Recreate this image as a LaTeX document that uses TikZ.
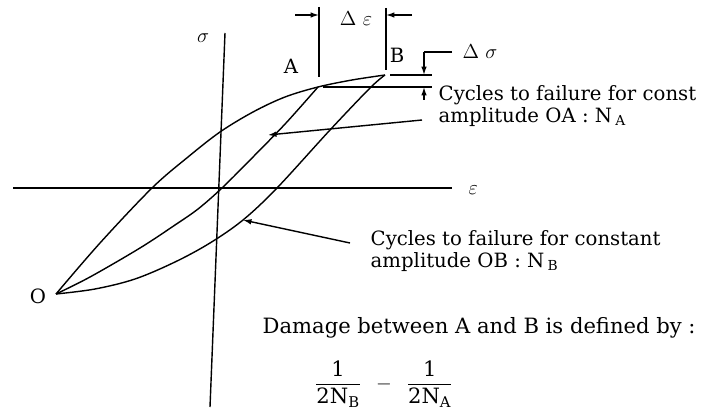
\documentclass[tikz,border=0pt]{standalone}
\usepackage{amsmath}
\usepackage{fontspec}
\setmainfont{DejaVu Serif}
\usetikzlibrary{arrows.meta}

\begin{document}
\begin{tikzpicture}[x=0.025cm, y=-0.025cm, line width=1pt,
	lbl/.style={font=\fontsize{14}{15.2}\selectfont, inner sep=0pt},
	big/.style={font=\fontsize{15}{17}\selectfont, inner sep=0pt},
	tip/.style={-{Latex[length=6pt,width=4pt]}}]
	\useasboundingbox (0,0) rectangle (723,420);
	% axes
	\coordinate (sigTop) at (225,33);
	\coordinate (sigBot) at (210,407);
	\coordinate (epsL) at (13,188);
	\coordinate (epsR) at (452,188);
	\draw (sigBot) -- (sigTop);
	\draw (epsL) -- (epsR);
	\node[lbl] (sig) at (203,38) {$\sigma$};
	\node[lbl, anchor=west] (eps) at (468,190) {$\varepsilon$};
	% the loops: O up to B, down again through A and B
	\draw plot[smooth, tension=0.55] coordinates {(56,294) (100,243) (152,188) (188,157) (220,132) (253,112) (285,97) (318,87) (352,80) (385,75)};
	\draw plot[smooth, tension=0.55] coordinates {(56,294) (90,277) (140,248) (175,225) (198,209) (222,188) (254,156) (286,123) (318,87)};
	\draw plot[smooth, tension=0.55] coordinates {(56,294) (95,289) (135,279) (175,262) (210,243) (243,220) (277,188) (330,130) (370,88) (385,75)};
	\node[lbl] (labO) at (38,296) {O};
	\node[lbl] (labA) at (291,66) {A};
	\node[lbl] (labB) at (397,55) {B};
	% strain range
	\coordinate (deL1) at (319,7);
	\coordinate (deL2) at (319,77);
	\coordinate (deR1) at (386,8);
	\coordinate (deR2) at (386,70);
	\draw (deL1) -- (deL2);
	\draw (deR1) -- (deR2);
	\coordinate (deLin) at (295,15);
	\coordinate (deLhit) at (319,15);
	\coordinate (deRin) at (412,15);
	\coordinate (deRhit) at (386,15);
	\draw[tip] (deLin) -- (deLhit);
	\draw[tip] (deRin) -- (deRhit);
	\node[lbl] (deps) at (356,19) {$\Delta\ \varepsilon$};
	% stress range
	\coordinate (dsT1) at (390,75);
	\coordinate (dsT2) at (432,75);
	\coordinate (dsB1) at (323,87);
	\coordinate (dsB2) at (432,87);
	\draw (dsT1) -- (dsT2);
	\draw (dsB1) -- (dsB2);
	\coordinate (dsLead) at (452,52);
	\coordinate (dsKnee) at (424,52);
	\coordinate (dsHitT) at (424,75);
	\coordinate (dsLow) at (424,100);
	\coordinate (dsHitB) at (424,87);
	\draw (dsLead) -- (dsKnee);
	\draw[tip] (dsKnee) -- (dsHitT);
	\draw[tip] (dsLow) -- (dsHitB);
	\node[lbl, anchor=west] (dsig) at (462,52) {$\Delta\ \sigma$};
	% notes with their arrows
	\node[lbl, anchor=west, align=left] (noteA) at (438,106) {Cycles to failure for const\\amplitude OA : N\,$_{\text{A}}$};
	\node[lbl, anchor=west, align=left] (noteB) at (370,251) {Cycles to failure for constant\\amplitude OB : N\,$_{\text{B}}$};
	\coordinate (fromA) at (422,120);
	\coordinate (hitA) at (268,135);
	\coordinate (fromB) at (350,243);
	\coordinate (hitB) at (243,220);
	\draw[tip] (fromA) -- (hitA);
	\draw[tip] (fromB) -- (hitB);
	% damage
	\node[big, anchor=west] (dmg) at (262,328) {Damage between A and B is defined by~:};
	\node[big, anchor=west] (dfrac) at (314,384) {$\displaystyle\frac{\text{1}}{\text{2N}_{\text{B}}}\ \,-\ \,\frac{\text{1}}{\text{2N}_{\text{A}}}$};
\end{tikzpicture}
\end{document}
